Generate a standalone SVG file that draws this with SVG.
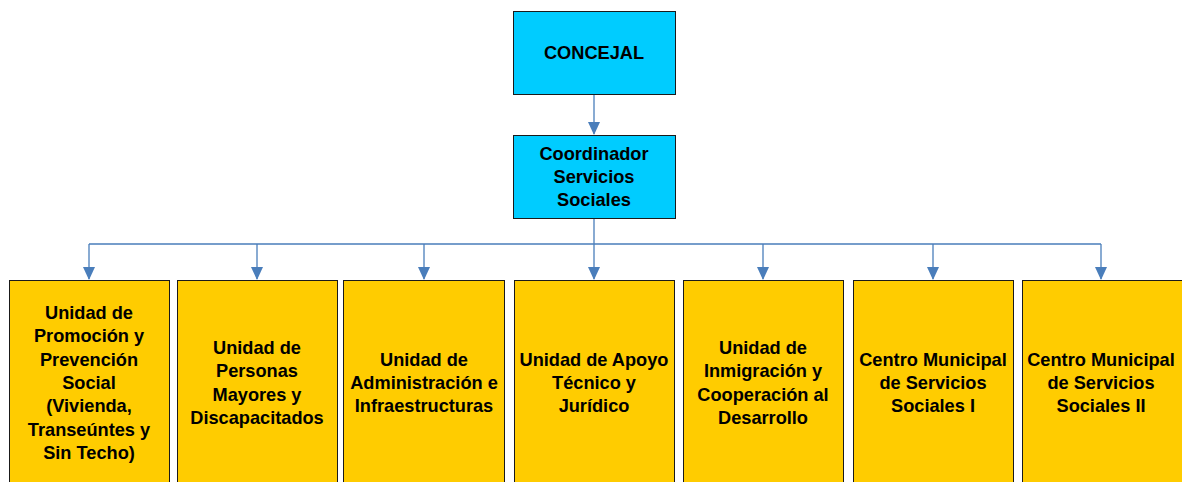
<svg xmlns="http://www.w3.org/2000/svg" width="1182" height="482" viewBox="0 0 1182 482">
<defs>
<marker id="ah" markerWidth="13" markerHeight="12" refX="12" refY="6" orient="auto" markerUnits="userSpaceOnUse" viewBox="0 0 13 12">
<path d="M0,0 L13,6 L0,12 Z" fill="#4A7EBB"/>
</marker>
</defs>
<style>
.top{fill:#00CCFF;stroke:#1a1a1a;stroke-width:1}
.unit{fill:#FFCC00;stroke:#1a1a1a;stroke-width:1}
text{font-family:"Liberation Sans",Arial,sans-serif;font-weight:bold;font-size:18.2px;fill:#000;text-anchor:middle}
.c{fill:none;stroke:#4A7EBB;stroke-width:1.3}
.a{fill:none;stroke:#4A7EBB;stroke-width:1.3;marker-end:url(#ah)}
</style>
<rect width="1182" height="482" fill="#fff"/>
<g id="connectors">
<path class="a" d="M594,94 V134"/>
<path class="c" d="M594,218 V244 M89,244 H1101"/>
<path class="a" d="M89,244 V279"/>
<path class="a" d="M257,244 V279"/>
<path class="a" d="M424,244 V279"/>
<path class="a" d="M594,244 V279"/>
<path class="a" d="M763,244 V279"/>
<path class="a" d="M933,244 V279"/>
<path class="a" d="M1101,244 V279"/>
</g>
<g id="concejal">
<rect class="top" x="513.5" y="11.5" width="162" height="83"/>
<text x="594" y="59">CONCEJAL</text>
</g>
<g id="coordinador">
<rect class="top" x="513.5" y="135.5" width="162" height="83"/>
<text x="594" y="159.5">Coordinador</text>
<text x="594" y="182.8">Servicios</text>
<text x="594" y="206.1">Sociales</text>
</g>
<g id="u1">
<rect class="unit" x="9.5" y="280.5" width="160" height="210"/>
<text x="89" y="319.1">Unidad de</text>
<text x="89" y="342.4">Promoción y</text>
<text x="89" y="365.7">Prevención</text>
<text x="89" y="389">Social</text>
<text x="89" y="412.3">(Vivienda,</text>
<text x="89" y="435.6">Transeúntes y</text>
<text x="89" y="458.9">Sin Techo)</text>
</g>
<g id="u2">
<rect class="unit" x="177.5" y="280.5" width="160" height="210"/>
<text x="257" y="354">Unidad de</text>
<text x="257" y="377.3">Personas</text>
<text x="257" y="400.6">Mayores y</text>
<text x="257" y="423.9">Discapacitados</text>
</g>
<g id="u3">
<rect class="unit" x="343.5" y="280.5" width="161" height="210"/>
<text x="424" y="365.7">Unidad de</text>
<text x="424" y="389">Administración e</text>
<text x="424" y="412.3">Infraestructuras</text>
</g>
<g id="u4">
<rect class="unit" x="514.5" y="280.5" width="160" height="210"/>
<text x="594" y="365.7">Unidad de Apoyo</text>
<text x="594" y="389">Técnico y</text>
<text x="594" y="412.3">Jurídico</text>
</g>
<g id="u5">
<rect class="unit" x="683.5" y="280.5" width="160" height="210"/>
<text x="763" y="354">Unidad de</text>
<text x="763" y="377.3">Inmigración y</text>
<text x="763" y="400.6">Cooperación al</text>
<text x="763" y="423.9">Desarrollo</text>
</g>
<g id="u6">
<rect class="unit" x="853.5" y="280.5" width="160" height="210"/>
<text x="933" y="365.7">Centro Municipal</text>
<text x="933" y="389">de Servicios</text>
<text x="933" y="412.3">Sociales I</text>
</g>
<g id="u7">
<rect class="unit" x="1022.5" y="280.5" width="160" height="210"/>
<text x="1101" y="365.7">Centro Municipal</text>
<text x="1101" y="389">de Servicios</text>
<text x="1101" y="412.3">Sociales II</text>
</g>
</svg>
